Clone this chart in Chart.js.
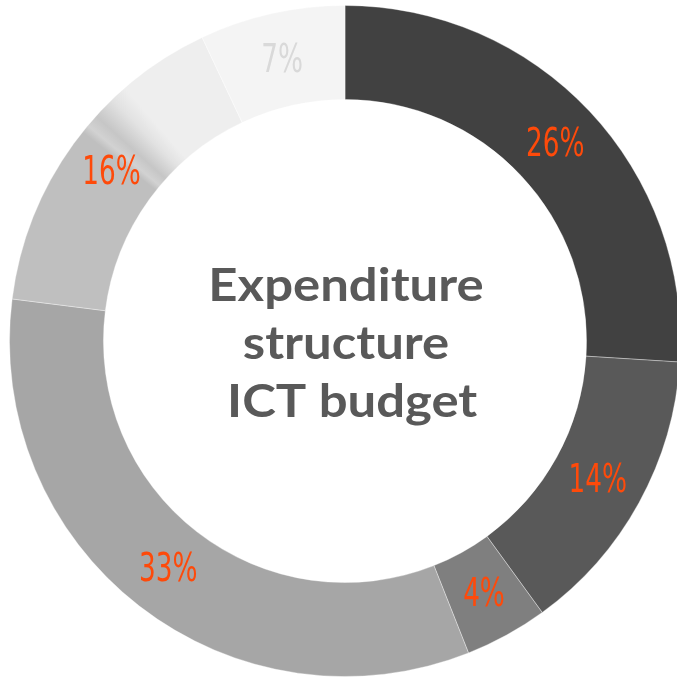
<!DOCTYPE html>
<html>
<head>
<meta charset="utf-8">
<script src="https://cdn.jsdelivr.net/npm/chart.js@4"></script>
<style>
  html, body { margin: 0; padding: 0; background: #fff; overflow: hidden; width: 677px; height: 678px; }
  #wrap { position: absolute; left: 9px; top: 5px; width: 672px; height: 672px; }
</style>
</head>
<body>
<div id="wrap"><canvas id="donut" width="672" height="672"></canvas></div>
<script>
var labels = ["A", "B", "C", "D", "E", "F"];
var values = [26, 14, 4, 33, 16, 7];
var fills = ["#414141", "#595959", "#7f7f7f", "#a6a6a6", "#bfbfbf", "#f4f4f4"];
var labelColors = ["#fe4a0a", "#fe4a0a", "#fe4a0a", "#fe4a0a", "#fe4a0a", "#d9d9d9"];
var titleLines = ["Expenditure", "structure", " ICT budget"];

// the 16% slice fades into a pale grey part way round
function sliceFill(c) {
  var i = c.dataIndex;
  if (i !== 4) return fills[i];
  var area = c.chart.chartArea;
  if (!area) return fills[i];
  var cx = (area.left + area.right) / 2;
  var cy = (area.top + area.bottom) / 2;
  var g = c.chart.ctx.createConicGradient(-Math.PI / 2, cx, cy);
  g.addColorStop(0, "#bfbfbf");
  g.addColorStop(0.857, "#bfbfbf");
  g.addColorStop(0.861, "#d2d2d2");
  g.addColorStop(0.867, "#c6c6c6");
  g.addColorStop(0.878, "#e2e2e2");
  g.addColorStop(0.886, "#eeeeee");
  g.addColorStop(1, "#eeeeee");
  return g;
}

var labelPlugin = {
  id: "sliceLabels",
  afterDatasetsDraw: function (chart) {
    var ctx = chart.ctx;
    var meta = chart.getDatasetMeta(0);
    ctx.save();
    ctx.textAlign = "center";
    ctx.textBaseline = "middle";
    ctx.font = '39px "DejaVu Sans Condensed", sans-serif';
    meta.data.forEach(function (arc, i) {
      var p = arc.getCenterPoint();
      ctx.save();
      ctx.translate(p.x, p.y + 2);
      ctx.scale(0.75, 1);
      ctx.fillStyle = labelColors[i];
      ctx.fillText(values[i] + "%", 0, 0);
      ctx.restore();
    });

    // title in the hole
    var cx = (chart.chartArea.left + chart.chartArea.right) / 2;
    var cy = (chart.chartArea.top + chart.chartArea.bottom) / 2;
    ctx.font = 'bold 45px Lato, "Open Sans", sans-serif';
    ctx.fillStyle = "#595959";
    ctx.textBaseline = "alphabetic";
    titleLines.forEach(function (line, k) {
      ctx.save();
      ctx.translate(cx + 1, cy - 40 + k * 58);
      ctx.scale(1.13, 1);
      ctx.fillText(line, 0, 0);
      ctx.restore();
    });
    ctx.restore();
  }
};

var ctx = document.getElementById("donut").getContext("2d");
var chart = new Chart(ctx, {
  type: "doughnut",
  data: {
    labels: labels,
    datasets: [{
      data: values,
      backgroundColor: sliceFill,
      borderColor: "rgba(255,255,255,0.35)",
      borderWidth: 1
    }]
  },
  options: {
    responsive: false,
    animation: false,
    cutout: "72%",
    plugins: {
      legend: { display: false },
      tooltip: { enabled: false }
    }
  },
  plugins: [labelPlugin]
});
</script>
</body>
</html>
